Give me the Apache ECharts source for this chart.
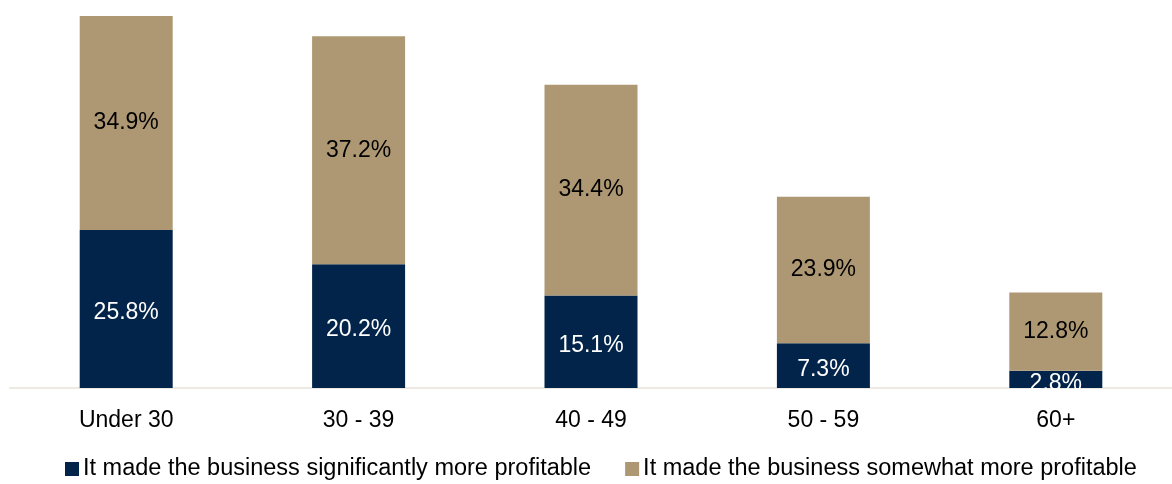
<!DOCTYPE html>
<html>
<head>
<meta charset="utf-8">
<script src="https://cdn.jsdelivr.net/npm/echarts@6/dist/echarts.min.js"></script>
<style>
  html, body { margin: 0; padding: 0; background: #fff; }
  #chart { width: 1172px; height: 484px; }
</style>
</head>
<body>
<div id="chart"></div>
<script>
const categories = ['Under 30', '30 - 39', '40 - 49', '50 - 59', '60+']
const significantly = [25.8, 20.2, 15.1, 7.3, 2.8]
const somewhat = [34.9, 37.2, 34.4, 23.9, 12.8]
const seriesNames = [
  'It made the business significantly more profitable',
  'It made the business somewhat more profitable'
]

const chart = echarts.init(document.getElementById('chart'))
const font = 'Liberation Sans, Arial, sans-serif'

function pct(p) {
  return p.value.toFixed(1) + '%'
}

chart.setOption({
  animation: false,
  textStyle: { fontFamily: font },
  grid: { left: 10, right: 0, top: 16, bottom: 96 },
  legend: {
    top: 452,
    left: 60,
    itemWidth: 14,
    itemHeight: 14,
    itemGap: 34,
    icon: 'rect',
    textStyle: { fontSize: 23.5, color: '#000', fontFamily: font, padding: [0, 0, 0, -1] },
    data: seriesNames
  },
  xAxis: {
    type: 'category',
    data: categories,
    axisLine: { lineStyle: { color: '#ece9e3', width: 2 } },
    axisTick: { show: false },
    axisLabel: { fontSize: 23, color: '#000', margin: 21, fontFamily: font }
  },
  yAxis: {
    type: 'value',
    min: 0,
    max: 60.7,
    show: false,
    splitLine: { show: false }
  },
  series: [
    {
      name: seriesNames[0],
      type: 'bar',
      stack: 'total',
      barWidth: 93,
      data: significantly,
      itemStyle: { color: '#02244a' },
      label: {
        show: true,
        position: 'inside',
        offset: [0, 4],
        color: '#fff',
        fontSize: 23,
        fontFamily: font,
        formatter: pct
      }
    },
    {
      name: seriesNames[1],
      type: 'bar',
      stack: 'total',
      barWidth: 93,
      data: somewhat,
      itemStyle: { color: '#ae9873' },
      label: {
        show: true,
        position: 'inside',
        color: '#000',
        fontSize: 23,
        fontFamily: font,
        formatter: pct
      }
    }
  ]
})
</script>
</body>
</html>
